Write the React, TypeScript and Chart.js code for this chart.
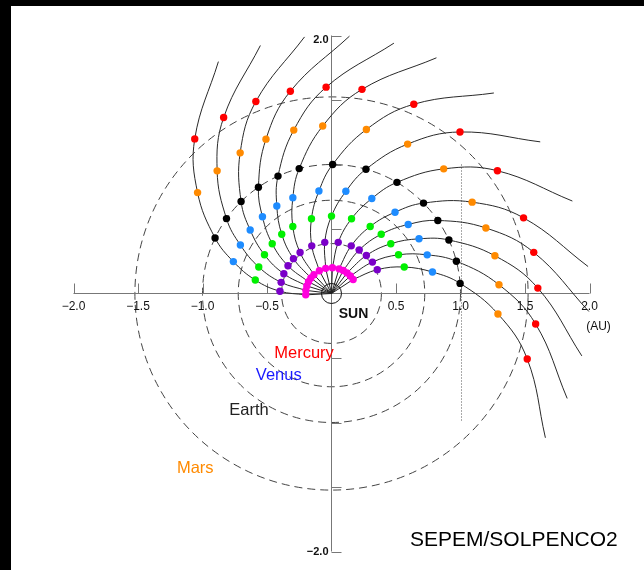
import React, { useEffect, useRef } from 'react';
import { Chart, registerables } from 'chart.js';

Chart.register(...registerables);

// ---- data ----
// longitude (deg) of each field line where it meets the 0.2 AU (magenta) ring
const FOOT_LON_DEG = [183, 173, 163, 153, 143, 133, 118, 103, 88, 73, 63, 53, 43, 33];
// radial distance (AU) of each coloured dot ring
const DOT_RADII_AU = [0.2, 0.4, 0.6, 0.8, 1.0, 1.3, 1.6];
// angular lag (deg) of each ring behind the field line foot longitude
const DOT_LAG_DEG = [0, 5.5, 13, 21, 28.5, 40, 51.5];
// outer end of each field line
const LINE_END_RADIUS_AU = 2.0;
const LINE_END_LAG_DEG = 67;
const DOT_COLORS = ['#ff00dd', '#7a00c8', '#00f000', '#1e8cff', '#000000', '#ff8a00', '#ff0000'];

const ORBIT_NAMES = ['Mercury', 'Venus', 'Earth', 'Mars'];
const ORBIT_RADII_AU = [0.387, 0.723, 1.0, 1.524];
const ORBIT_LABEL_COLORS = ['#ff0000', '#1a1aff', '#222222', '#ff8a00'];
const ORBIT_LABEL_X = [-0.213, -0.409, -0.64, -1.056];
const ORBIT_LABEL_Y = [-0.461, -0.632, -0.903, -1.358];

const X_TICKS = [-2, -1.5, -1, -0.5, 0.5, 1, 1.5, 2];
const X_TICK_LABELS = ['\u22122.0', '\u22121.5', '\u22121.0', '\u22120.5', '0.5', '1.0', '1.5', '2.0'];
const Y_TICKS = [-2, -1.5, -1, -0.5, 0.5, 1, 1.5, 2];
const Y_LABEL_VALUES = [2, -2];
const Y_LABELS = ['2.0', '\u22122.0'];
const AXIS_UNIT = '(AU)';
const SUN_LABEL = 'SUN';
const CREDIT = 'SEPEM/SOLPENCO2';
const DOTTED_X = 1.0;
const DOTTED_Y_RANGE = [-1.0, 1.0];

// ---- layout ----
const W = 644;
const H = 570;
const PX_PER_AU = 129;
const CX = 331.5;
const CY = 293.5;
const PAD_LEFT = 9;
const X_MIN = -(CX - PAD_LEFT) / PX_PER_AU;
const X_MAX = (W - CX) / PX_PER_AU;
const Y_MAX = CY / PX_PER_AU;
const Y_MIN = -(H - CY) / PX_PER_AU;
const FONT = '"Liberation Sans", Arial, Helvetica, sans-serif';

const polar = (r: number, deg: number) => {
  const a = (deg * Math.PI) / 180;
  return { x: r * Math.cos(a), y: r * Math.sin(a) };
};

const helioPlugin = {
  id: 'helio',
  beforeDraw(chart: any) {
    const ctx = chart.ctx;
    ctx.save();
    ctx.fillStyle = '#000';
    ctx.fillRect(0, 0, W, H);
    ctx.fillStyle = '#fff';
    ctx.fillRect(11, 6, W - 11, H - 6);
    ctx.restore();
  },
  beforeDatasetsDraw(chart: any) {
    const ctx = chart.ctx;
    const sx = chart.scales.x;
    const sy = chart.scales.y;
    const px = (v: number) => sx.getPixelForValue(v);
    const py = (v: number) => sy.getPixelForValue(v);
    const ox = px(0);
    const oy = py(0);
    ctx.save();
    // orbits
    ctx.strokeStyle = '#444';
    ctx.lineWidth = 1;
    ctx.setLineDash([8, 5]);
    ORBIT_RADII_AU.forEach((r) => {
      const rp = px(r) - ox;
      ctx.beginPath();
      ctx.arc(ox, oy, rp, 0, Math.PI * 2);
      ctx.stroke();
    });
    // dotted line at 1 AU
    ctx.setLineDash([1, 2]);
    ctx.strokeStyle = '#555';
    ctx.beginPath();
    ctx.moveTo(Math.round(px(DOTTED_X)) + 0.5, py(DOTTED_Y_RANGE[1]));
    ctx.lineTo(Math.round(px(DOTTED_X)) + 0.5, py(DOTTED_Y_RANGE[0]));
    ctx.stroke();
    // axes
    ctx.setLineDash([]);
    ctx.strokeStyle = '#777';
    ctx.beginPath();
    ctx.moveTo(px(-2), oy);
    ctx.lineTo(px(2), oy);
    ctx.moveTo(ox, py(2));
    ctx.lineTo(ox, py(-2));
    X_TICKS.forEach((v) => {
      const x = Math.round(px(v)) + 0.5;
      ctx.moveTo(x, oy);
      ctx.lineTo(x, oy - 10);
    });
    Y_TICKS.forEach((v) => {
      const y = Math.round(py(v)) + 0.5;
      ctx.moveTo(ox, y);
      ctx.lineTo(ox + 10, y);
    });
    ctx.stroke();
    ctx.restore();
  },
  afterDatasetsDraw(chart: any) {
    const ctx = chart.ctx;
    const sx = chart.scales.x;
    const sy = chart.scales.y;
    const px = (v: number) => sx.getPixelForValue(v);
    const py = (v: number) => sy.getPixelForValue(v);
    const ox = px(0);
    const oy = py(0);
    ctx.save();
    ctx.textBaseline = 'middle';
    // x tick labels
    ctx.fillStyle = '#111';
    ctx.font = `12px ${FONT}`;
    ctx.textAlign = 'center';
    X_TICKS.forEach((v, i) => {
      ctx.fillText(X_TICK_LABELS[i], px(v), oy + 13);
    });
    ctx.fillText(AXIS_UNIT, px(2) + 9, oy + 33);
    // y labels
    ctx.font = `bold 11px ${FONT}`;
    ctx.textAlign = 'right';
    Y_LABEL_VALUES.forEach((v, i) => {
      ctx.fillText(Y_LABELS[i], ox - 3, py(v) + (v > 0 ? 4 : 0));
    });
    // SUN
    ctx.font = `bold 14px ${FONT}`;
    ctx.textAlign = 'center';
    ctx.fillStyle = '#111';
    ctx.fillText(SUN_LABEL, ox + 22, oy + 21);
    // orbit names
    ctx.font = `16.5px ${FONT}`;
    ORBIT_NAMES.forEach((n, i) => {
      ctx.fillStyle = ORBIT_LABEL_COLORS[i];
      ctx.fillText(n, px(ORBIT_LABEL_X[i]), py(ORBIT_LABEL_Y[i]));
    });
    // credit
    ctx.fillStyle = '#000';
    ctx.font = `21px ${FONT}`;
    ctx.textAlign = 'left';
    ctx.fillText(CREDIT, 410, 540);
    ctx.restore();
  },
};

export default function App() {
  const ref = useRef<HTMLCanvasElement | null>(null);
  useEffect(() => {
    if (!ref.current) return;
    const datasets: any[] = [];
    // coloured dots (on top)
    DOT_RADII_AU.forEach((r, k) => {
      datasets.push({
        data: FOOT_LON_DEG.map((lon) => polar(r, lon - DOT_LAG_DEG[k])),
        showLine: false,
        pointRadius: 3.7,
        pointBorderWidth: 0,
        pointBackgroundColor: DOT_COLORS[k],
        pointBorderColor: DOT_COLORS[k],
        order: 1,
      });
    });
    // sun circle
    datasets.push({
      data: [{ x: 0, y: 0 }],
      showLine: false,
      pointRadius: 10,
      pointBorderWidth: 1,
      pointBackgroundColor: 'rgba(0,0,0,0)',
      pointBorderColor: '#111',
      order: 2,
    });
    // field lines
    FOOT_LON_DEG.forEach((lon) => {
      datasets.push({
        data: [{ x: 0, y: 0 }, polar(DOT_RADII_AU[0], lon)],
        showLine: true,
        borderColor: '#222',
        borderWidth: 1,
        pointRadius: 0,
        tension: 0,
        order: 3,
      });
      const pts = DOT_RADII_AU.map((r, k) => polar(r, lon - DOT_LAG_DEG[k]));
      pts.push(polar(LINE_END_RADIUS_AU, lon - LINE_END_LAG_DEG));
      datasets.push({
        data: pts,
        showLine: true,
        borderColor: '#2a2a2a',
        borderWidth: 1,
        pointRadius: 0,
        tension: 0.4,
        order: 3,
      });
    });
    const chart = new Chart(ref.current, {
      type: 'scatter',
      data: { datasets },
      options: {
        animation: false,
        responsive: false,
        events: [],
        layout: { autoPadding: false, padding: { left: PAD_LEFT, right: 0, top: 0, bottom: 0 } },
        scales: {
          x: { type: 'linear', min: X_MIN, max: X_MAX, display: false },
          y: { type: 'linear', min: Y_MIN, max: Y_MAX, display: false },
        },
        plugins: { legend: { display: false }, tooltip: { enabled: false } },
      },
      plugins: [helioPlugin],
    } as any);
    return () => chart.destroy();
  }, []);
  return (
    <div style={{ position: 'fixed', left: 0, top: 0, width: W, height: H }}>
      <canvas ref={ref} width={W} height={H} style={{ display: 'block' }} />
    </div>
  );
}
